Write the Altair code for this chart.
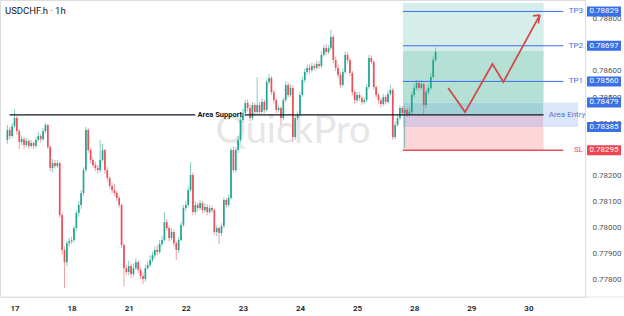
import altair as alt
import pandas as pd

TITLE = "USDCHF.h · 1h"
WATERMARK = "QuickPro"

# ---- hourly candles (index 0 = first visible candle) ----
first_open = 0.78335
closes = [
    0.78373, 0.78350, 0.78388, 0.78419, 0.78369, 0.78327, 0.78338, 0.78315, 0.78331, 0.78312,
    0.78323, 0.78312, 0.78335, 0.78350, 0.78338, 0.78369, 0.78392, 0.78308, 0.78227, 0.78246,
    0.78235, 0.78246, 0.78046, 0.77912, 0.77865, 0.77938, 0.77946, 0.77950, 0.77996, 0.78054,
    0.78085, 0.78131, 0.78219, 0.78373, 0.78296, 0.78258, 0.78238, 0.78227, 0.78219, 0.78258,
    0.78296, 0.78219, 0.78188, 0.78158, 0.78142, 0.78131, 0.78112, 0.78085, 0.77931, 0.77842,
    0.77827, 0.77850, 0.77819, 0.77842, 0.77865, 0.77835, 0.77812, 0.77800, 0.77842, 0.77854,
    0.77873, 0.77892, 0.77912, 0.77904, 0.77935, 0.77950, 0.78019, 0.77996, 0.77958, 0.77981,
    0.77938, 0.77912, 0.77950, 0.78008, 0.78073, 0.78085, 0.78142, 0.78200, 0.78058, 0.78085,
    0.78073, 0.78092, 0.78065, 0.78077, 0.78058, 0.78073, 0.78065, 0.77981, 0.77996, 0.77977,
    0.78004, 0.78104, 0.78085, 0.78112, 0.78296, 0.78219, 0.78296, 0.78335, 0.78412, 0.78438,
    0.78477, 0.78458, 0.78419, 0.78469, 0.78442, 0.78469, 0.78442, 0.78481, 0.78450, 0.78558,
    0.78573, 0.78519, 0.78488, 0.78450, 0.78458, 0.78419, 0.78488, 0.78546, 0.78508, 0.78535,
    0.78346, 0.78419, 0.78431, 0.78508, 0.78565, 0.78596, 0.78612, 0.78604, 0.78619, 0.78612,
    0.78627, 0.78619, 0.78662, 0.78688, 0.78673, 0.78688, 0.78731, 0.78642, 0.78612, 0.78585,
    0.78546, 0.78596, 0.78662, 0.78642, 0.78592, 0.78519, 0.78488, 0.78508, 0.78496, 0.78481,
    0.78488, 0.78538, 0.78650, 0.78635, 0.78538, 0.78508, 0.78488, 0.78473, 0.78500, 0.78481,
    0.78512, 0.78527, 0.78346, 0.78392, 0.78419, 0.78458, 0.78438, 0.78450, 0.78435, 0.78442,
    0.78508, 0.78535, 0.78554, 0.78535, 0.78550, 0.78469, 0.78519, 0.78535, 0.78577, 0.78642,
    0.78673,
]
highs = [
    0.78392, 0.78385, 0.78400, 0.78452, 0.78428, 0.78377, 0.78350, 0.78346, 0.78342, 0.78338,
    0.78335, 0.78330, 0.78346, 0.78365, 0.78358, 0.78380, 0.78400, 0.78396, 0.78315, 0.78262,
    0.78258, 0.78258, 0.78250, 0.78055, 0.77925, 0.77945, 0.77958, 0.77962, 0.78005, 0.78065,
    0.78100, 0.78142, 0.78230, 0.78385, 0.78380, 0.78305, 0.78268, 0.78250, 0.78238, 0.78335,
    0.78320, 0.78300, 0.78230, 0.78195, 0.78170, 0.78165, 0.78140, 0.78120, 0.78090, 0.77940,
    0.77855, 0.77870, 0.77858, 0.77860, 0.77880, 0.77872, 0.77845, 0.77825, 0.77855, 0.77868,
    0.77890, 0.77905, 0.77925, 0.77930, 0.77950, 0.77965, 0.78058, 0.78030, 0.78005, 0.77995,
    0.77990, 0.77945, 0.77962, 0.78020, 0.78085, 0.78100, 0.78155, 0.78250, 0.78210, 0.78100,
    0.78095, 0.78105, 0.78100, 0.78090, 0.78088, 0.78085, 0.78082, 0.78070, 0.78008, 0.78002,
    0.78015, 0.78115, 0.78112, 0.78125, 0.78305, 0.78310, 0.78308, 0.78350, 0.78425, 0.78455,
    0.78490, 0.78490, 0.78470, 0.78480, 0.78478, 0.78577, 0.78480, 0.78495, 0.78490, 0.78570,
    0.78588, 0.78580, 0.78528, 0.78495, 0.78470, 0.78465, 0.78498, 0.78560, 0.78555, 0.78548,
    0.78545, 0.78430, 0.78445, 0.78520, 0.78578, 0.78610, 0.78625, 0.78625, 0.78632, 0.78630,
    0.78640, 0.78638, 0.78675, 0.78700, 0.78705, 0.78700, 0.78758, 0.78740, 0.78655, 0.78625,
    0.78595, 0.78608, 0.78675, 0.78672, 0.78650, 0.78600, 0.78528, 0.78520, 0.78518, 0.78505,
    0.78500, 0.78550, 0.78662, 0.78660, 0.78642, 0.78545, 0.78515, 0.78495, 0.78512, 0.78508,
    0.78525, 0.78545, 0.78535, 0.78405, 0.78430, 0.78470, 0.78465, 0.78462, 0.78458, 0.78455,
    0.78520, 0.78548, 0.78565, 0.78562, 0.78565, 0.78555, 0.78530, 0.78548, 0.78590, 0.78655,
    0.78690,
]
lows = [
    0.78320, 0.78338, 0.78342, 0.78380, 0.78355, 0.78300, 0.78315, 0.78300, 0.78308, 0.78300,
    0.78304, 0.78300, 0.78305, 0.78328, 0.78325, 0.78330, 0.78360, 0.78300, 0.78215, 0.78210,
    0.78225, 0.78228, 0.78035, 0.77895, 0.77765, 0.77850, 0.77925, 0.77935, 0.77940, 0.77985,
    0.78040, 0.78070, 0.78120, 0.78210, 0.78285, 0.78245, 0.78228, 0.78215, 0.78205, 0.78210,
    0.78250, 0.78205, 0.78175, 0.78145, 0.78130, 0.78120, 0.78100, 0.78075, 0.77920, 0.77772,
    0.77815, 0.77815, 0.77805, 0.77810, 0.77835, 0.77822, 0.77800, 0.77780, 0.77790, 0.77835,
    0.77845, 0.77865, 0.77880, 0.77890, 0.77895, 0.77925, 0.77945, 0.77985, 0.77945, 0.77950,
    0.77925, 0.77873, 0.77900, 0.77945, 0.78000, 0.78062, 0.78078, 0.78135, 0.78045, 0.78048,
    0.78060, 0.78065, 0.78052, 0.78055, 0.78045, 0.78050, 0.78055, 0.77970, 0.77965, 0.77935,
    0.77965, 0.77995, 0.78075, 0.78078, 0.78105, 0.78210, 0.78210, 0.78285, 0.78325, 0.78400,
    0.78428, 0.78445, 0.78405, 0.78410, 0.78430, 0.78435, 0.78430, 0.78435, 0.78438, 0.78445,
    0.78548, 0.78508, 0.78475, 0.78438, 0.78440, 0.78392, 0.78410, 0.78480, 0.78498, 0.78500,
    0.78327, 0.78335, 0.78410, 0.78425, 0.78500, 0.78555, 0.78585, 0.78590, 0.78595, 0.78600,
    0.78605, 0.78608, 0.78610, 0.78655, 0.78660, 0.78665, 0.78680, 0.78630, 0.78600, 0.78572,
    0.78535, 0.78540, 0.78588, 0.78630, 0.78580, 0.78505, 0.78475, 0.78478, 0.78485, 0.78470,
    0.78472, 0.78480, 0.78530, 0.78625, 0.78528, 0.78495, 0.78475, 0.78460, 0.78465, 0.78470,
    0.78475, 0.78505, 0.78335, 0.78338, 0.78385, 0.78410, 0.78428, 0.78304, 0.78425, 0.78425,
    0.78435, 0.78500, 0.78525, 0.78525, 0.78530, 0.78430, 0.78460, 0.78510, 0.78528, 0.78570,
    0.78635,
]

day_pos = [3, 27, 51, 75, 99, 123, 147, 171, 195, 219]
day_labels = ["17", "18", "21", "22", "23", "24", "25", "28", "29", "30"]
# 0.787 and 0.783 sit fully under the TP2 / SL price boxes, so they are not shown
price_ticks = [0.778, 0.779, 0.780, 0.781, 0.782, 0.784, 0.785, 0.786, 0.788]

# ---- trade plan ----
tp_names = ["TP3", "TP2", "TP1"]
tp_levels = [0.78829, 0.78697, 0.78560]
sl_level = 0.78295
entry_hi = 0.78479
entry_lo = 0.78385
support_level = 0.78431
zone_top = 0.78862
green_top = 0.78677
zone_x0, zone_x1, ext_x1, line_x1 = 166.3, 225.4, 239.9, 233.7
support_segments = [(0.9, 79.0), (99.8, 225.4)]
support_label_x = 89.3

arrow_x = [185.3, 192.4, 203.9, 208.5, 223.8]
arrow_y = [0.78535, 0.78442, 0.78627, 0.78558, 0.78815]
head_x = [220.9, 223.2]
head_y = [0.78812, 0.78783]

UP, DOWN = "#22a68f", "#ea4f5a"
BLUE, RED = "#3b6fe6", "#e5505b"

opens = [first_open] + closes[:-1]
candles = pd.DataFrame({
    "i": list(range(len(closes))),
    "open": opens, "close": closes, "high": highs, "low": lows,
})
candles["dir"] = ["up" if c >= o else "down" for o, c in zip(opens, closes)]

XS = alt.Scale(domain=[-1, 240.7], nice=False, zero=False)
YS = alt.Scale(domain=[0.77731, 0.78873], nice=False, zero=False)
label_expr = " : ".join(f"datum.value == {p} ? '{l}'" for p, l in zip(day_pos, day_labels)) + " : ''"
XAX = alt.Axis(values=day_pos, labelExpr=label_expr, title=None, grid=False, ticks=False,
               domain=False, labelFontSize=8, labelColor="#131722", labelFontWeight=600,
               labelPadding=7, labelFont="Roboto", zindex=0)
YAX = alt.Axis(orient="right", values=price_ticks, format=".5f", title=None, grid=False,
               ticks=False, tickSize=0, domain=False, labelFontSize=8, labelColor="#555555",
               labelPadding=7, labelFont="Roboto", zindex=0)


def X(f):
    return alt.X(f, type="quantitative", scale=XS, axis=XAX)


def Y(f):
    return alt.Y(f, type="quantitative", scale=YS, axis=YAX)


one = pd.DataFrame({"t": [TITLE]})

watermark = alt.Chart(pd.DataFrame({"t": [WATERMARK]})).mark_text(
    font="Lato", fontSize=38, color="#e6e6e6", align="center", baseline="alphabetic"
).encode(text="t:N", x=alt.value(293), y=alt.value(143))

zones = pd.DataFrame({
    "x0": [zone_x0] * 5 + [zone_x1],
    "x1": [zone_x1] * 5 + [ext_x1],
    "y0": [green_top, entry_hi, support_level, entry_lo, sl_level, entry_lo],
    "y1": [zone_top, green_top, entry_hi, support_level, entry_lo, entry_hi],
    "c": ["#d5eeea", "#b4e0d5", "#a2d1d8", "#dac6e0", "#fcd7da", "#dbe6fb"],
})
zone_layer = alt.Chart(zones).mark_rect().encode(
    x=X("x0"), x2="x1", y=Y("y0"), y2="y1", color=alt.Color("c:N", scale=None))

ccol = alt.Color("dir:N", scale=alt.Scale(domain=["up", "down"], range=[UP, DOWN]), legend=None)
wicks = alt.Chart(candles).mark_rule(strokeWidth=1, opacity=0.55).encode(
    x=X("i"), y=Y("low"), y2="high", color=ccol)
bodies = alt.Chart(candles).mark_bar(width=1.7).encode(
    x=X("i"), y=Y("open"), y2="close", color=ccol)

sup = pd.DataFrame({"x0": [s[0] for s in support_segments], "x1": [s[1] for s in support_segments],
                    "y": [support_level] * len(support_segments)})
sup_layer = alt.Chart(sup).mark_rule(color="#131722", strokeWidth=1.2).encode(
    x=X("x0"), x2="x1", y=Y("y"))
sup_text = alt.Chart(pd.DataFrame({"x": [support_label_x], "y": [support_level], "t": ["Area Support"]})).mark_text(
    font="Roboto", fontSize=7.5, fontWeight="bold", color="#131722", align="center", baseline="middle"
).encode(x=X("x"), y=Y("y"), text="t:N")

tps = pd.DataFrame({"x0": [zone_x0] * 3, "x1": [line_x1] * 3, "y": tp_levels, "n": tp_names})
tp_layer = alt.Chart(tps).mark_rule(color=BLUE, strokeWidth=1).encode(x=X("x0"), x2="x1", y=Y("y"))
tp_text = alt.Chart(tps).mark_text(font="Roboto", fontSize=8, color=BLUE, align="right",
                                   baseline="middle").encode(x=alt.value(583), y=Y("y"), text="n:N")
sl = pd.DataFrame({"x0": [zone_x0], "x1": [line_x1], "y": [sl_level], "n": ["SL"]})
sl_layer = alt.Chart(sl).mark_rule(color=RED, strokeWidth=1.6).encode(x=X("x0"), x2="x1", y=Y("y"))
sl_text = alt.Chart(sl).mark_text(font="Roboto", fontSize=8, color=RED, align="right",
                                  baseline="middle").encode(x=alt.value(583), y=Y("y"), text="n:N")
entry_text = alt.Chart(pd.DataFrame({"y": [support_level], "t": ["Area Entry"]})).mark_text(
    font="Roboto", fontSize=8, color="#5577cc", align="center", baseline="middle"
).encode(x=alt.value(567), y=Y("y"), text="t:N")

arrow = alt.Chart(pd.DataFrame({"x": arrow_x, "y": arrow_y, "o": list(range(len(arrow_x)))})).mark_line(
    color="#d24a4a", strokeWidth=1.8).encode(x=X("x"), y=Y("y"), order="o:Q")
head = alt.Chart(pd.DataFrame({"x0": [arrow_x[-1]] * 2, "y0": [arrow_y[-1]] * 2, "x1": head_x, "y1": head_y})).mark_rule(
    color="#d24a4a", strokeWidth=1.8).encode(x=X("x0"), x2="x1", y=Y("y0"), y2="y1")

boxes = pd.DataFrame({
    "y": tp_levels + [entry_hi, entry_lo, sl_level],
    "c": [BLUE, BLUE, BLUE, BLUE, BLUE, "#f04452"],
})
boxes["t"] = [f"{v:.5f}" for v in boxes["y"]]
box_layer = alt.Chart(boxes).mark_rule(strokeWidth=10, strokeCap="butt").encode(
    x=alt.value(587), x2=alt.value(621), y=Y("y"), color=alt.Color("c:N", scale=None))
box_text = alt.Chart(boxes).mark_text(font="Roboto", fontSize=8, color="white", align="center",
                                      baseline="middle").encode(x=alt.value(604), y=Y("y"), text="t:N")

sep = alt.Chart(one).mark_rule(color="#e0e3eb", strokeWidth=1).encode(
    x=alt.value(0), x2=alt.value(624), y=alt.value(297))
title = alt.Chart(one).mark_text(font="Roboto", fontSize=9.5, color="#131722", align="left",
                                 baseline="middle").encode(x=alt.value(5), y=alt.value(10.5), text="t:N")

chart = alt.layer(
    watermark, zone_layer, wicks, bodies, sup_layer, sup_text, tp_layer, sl_layer,
    arrow, head, tp_text, sl_text, entry_text, box_layer, box_text, sep, title,
).properties(
    width=585, height=297, autosize=alt.AutoSizeParams(type="none"),
    padding={"left": 0, "top": 0, "right": 39, "bottom": 19},
).configure_view(stroke=None).configure(background="white")

chart.save("out.html", embed_options={"renderer": "svg", "actions": False})
